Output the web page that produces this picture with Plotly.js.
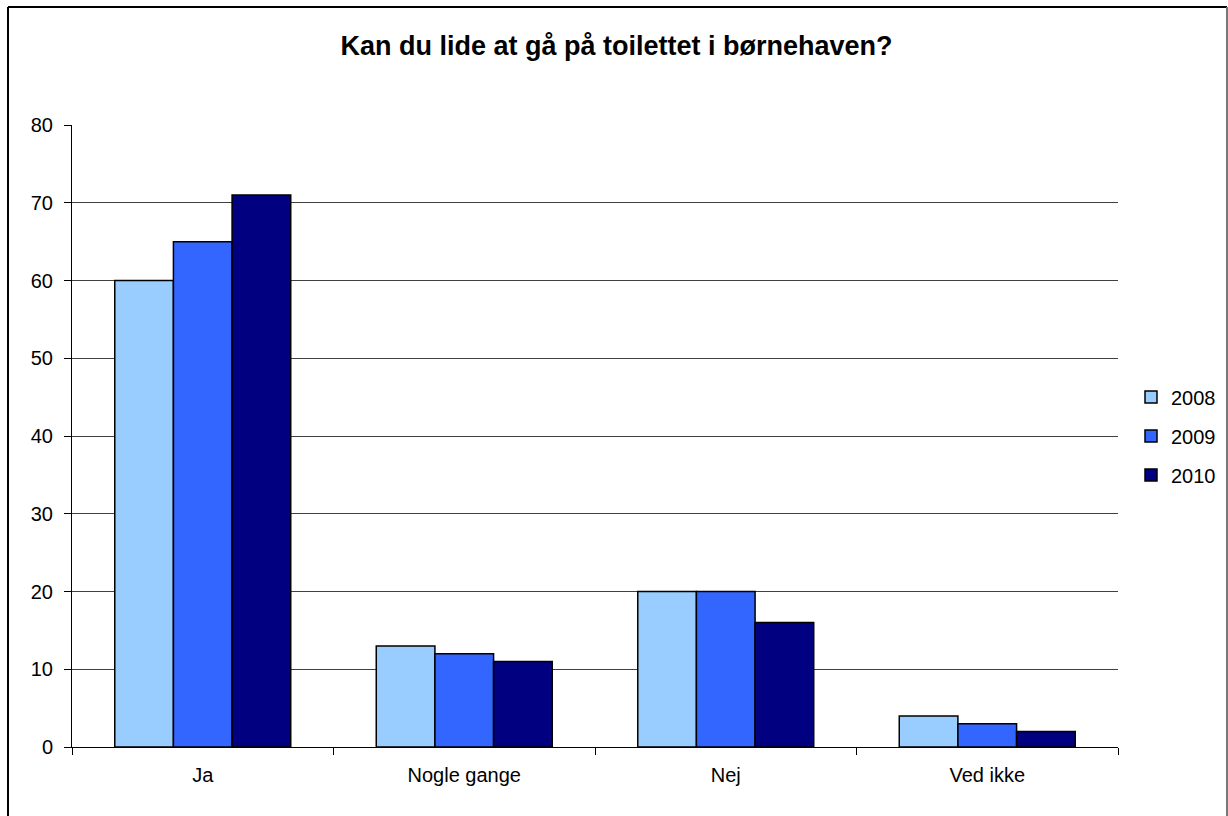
<!DOCTYPE html>
<html>
<head>
<meta charset="utf-8">
<script src="https://cdn.plot.ly/plotly-3.0.1.min.js"></script>
<style>
html,body{margin:0;padding:0;background:#fff;}
#chart{width:1228px;height:816px;}
</style>
</head>
<body>
<div id="chart"></div>
<script>
const categories = ["Ja", "Nogle gange", "Nej", "Ved ikke"];
const years = ["2008", "2009", "2010"];
const values2008 = [60, 13, 20, 4];
const values2009 = [65, 12, 20, 3];
const values2010 = [71, 11, 16, 2];
const colors = ["#99CCFF", "#3366FF", "#000080"];
const yTicks = [0, 10, 20, 30, 40, 50, 60, 70, 80];

const series = [values2008, values2009, values2010];
const traces = series.map((vals, i) => ({
  type: "bar",
  name: years[i],
  legendgroup: "g" + i,
  x: categories,
  y: vals,
  marker: {color: colors[i], line: {color: "#000", width: 1.5}},
  hoverinfo: "none"
}));

const W = 1228, H = 816, L = 72, R = 110, T = 125, B = 69;
const pw = W - L - R, ph = H - T - B;
const px = v => (v - L) / pw;
const py = v => (H - B - v) / ph;

const layout = {
  width: W, height: H,
  margin: {l: L, r: R, t: T, b: B, pad: 0, autoexpand: false},
  paper_bgcolor: "#fff",
  plot_bgcolor: "#fff",
  font: {family: "Liberation Sans, Arial, sans-serif", size: 20, color: "#000"},
  title: {text: "<b>Kan du lide at gå på toilettet i børnehaven?</b>", x: 0.502, xref: "container", xanchor: "center", y: 1 - 46 / H, yref: "container", yanchor: "middle", font: {size: 27, color: "#000"}},
  barmode: "group",
  bargap: 0.327,
  bargroupgap: 0,
  showlegend: true,
  legend: {x: px(1131), y: 0.5, xanchor: "left", yanchor: "middle", font: {size: 20, color: "#000"}, bgcolor: "rgba(0,0,0,0)", traceorder: "grouped", tracegroupgap: 10},
  xaxis: {
    type: "category",
    showline: true, linecolor: "#000", linewidth: 1,
    ticks: "outside", ticklen: 7, tickcolor: "#000", tickson: "boundaries",
    ticklabelstandoff: 10,
    tickfont: {size: 20, color: "#000"},
    showgrid: false, zeroline: false, fixedrange: true
  },
  yaxis: {
    range: [0, 80],
    tickvals: yTicks,
    showline: true, linecolor: "#000", linewidth: 1,
    ticks: "outside", ticklen: 7, tickcolor: "#000",
    tickfont: {size: 20, color: "#000"},
    showgrid: true, gridcolor: "#404040", gridwidth: 1,
    zeroline: false, fixedrange: true,
    ticklabelstandoff: 7
  },
  shapes: [
    {type: "line", xref: "paper", yref: "paper", x0: px(8), x1: px(8), y0: py(7), y1: py(830), line: {color: "#000", width: 2}},
    {type: "line", xref: "paper", yref: "paper", x0: px(8), x1: px(1227), y0: py(7), y1: py(7), line: {color: "#000", width: 2}},
    {type: "line", xref: "paper", yref: "paper", x0: px(1227), x1: px(1227), y0: py(7), y1: py(830), line: {color: "#777", width: 2}}
  ]
};

Plotly.newPlot("chart", traces, layout, {displayModeBar: false, staticPlot: true});
</script>
</body>
</html>
